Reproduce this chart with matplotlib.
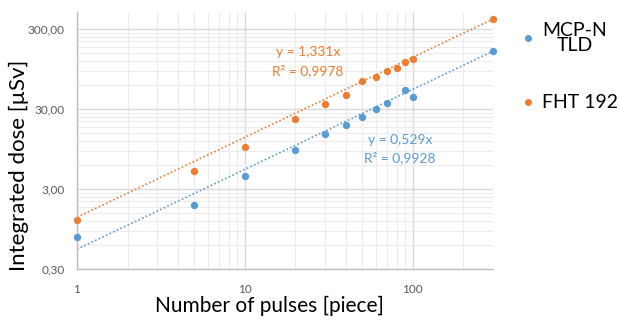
import numpy as np
import matplotlib
matplotlib.use("Agg")
import matplotlib.pyplot as plt
from matplotlib.ticker import FixedLocator, NullFormatter
from matplotlib.lines import Line2D

plt.rcParams['font.family'] = ['Lato', 'DejaVu Sans']

# ---- data ----
mcp_x = [1, 5, 10, 20, 30, 40, 50, 60, 70, 90, 100, 300]
mcp_y = [0.75, 1.89, 4.36, 9.2, 14.5, 18.9, 24.0, 29.6, 35.3, 52.4, 42.6, 161]
fht_x = [1, 5, 10, 20, 30, 40, 50, 60, 70, 80, 90, 100, 300]
fht_y = [1.24, 5.08, 10.1, 22.3, 34.6, 45.3, 67.2, 75.4, 89.6, 97.6, 117, 127, 403]
mcp_slope = 0.529
fht_slope = 1.331
mcp_r2 = "0,9928"
fht_r2 = "0,9978"
series_names = ["MCP-N\nTLD", "FHT 192"]
ytick_vals = [0.3, 3, 30, 300]
ytick_labels = ["0,30", "3,00", "30,00", "300,00"]
xtick_vals = [1, 10, 100]
xtick_labels = ["1", "10", "100"]

blue = "#5B9BD5"
orange = "#ED7D31"

W, H = 619, 320
fig = plt.figure(figsize=(W / 100, H / 100), dpi=100)
L, R, T, B = 77, 493, 12, 269
ax = fig.add_axes([L / W, 1 - B / H, (R - L) / W, (B - T) / H])
ax.set_xscale('log')
ax.set_yscale('log')
ax.set_xlim(1, 300)
ax.set_ylim(0.3, 490)

# grid
ax.yaxis.set_major_locator(FixedLocator(ytick_vals))
ax.set_yticklabels(ytick_labels)
yminor = [0.3 * k * 10 ** n for n in range(0, 4) for k in range(2, 10)]
ax.yaxis.set_minor_locator(FixedLocator(yminor))
ax.yaxis.set_minor_formatter(NullFormatter())
ax.xaxis.set_major_locator(FixedLocator(xtick_vals))
ax.set_xticklabels(xtick_labels)
xminor = [k * 10 ** n for n in range(0, 3) for k in range(2, 10)]
ax.xaxis.set_minor_locator(FixedLocator(xminor))
ax.xaxis.set_minor_formatter(NullFormatter())
ax.grid(True, which='major', color='#D9D9D9', lw=1.0, zorder=0)
ax.grid(True, which='minor', color='#ECECEC', lw=0.8, zorder=0)
ax.set_axisbelow(True)
ax.tick_params(which='both', length=0)
ax.tick_params(axis='y', pad=9, labelsize=8.5, labelcolor='#595959')
ax.tick_params(axis='x', pad=11, labelsize=8.5, labelcolor='#595959')
for s in ['top', 'right']:
    ax.spines[s].set_visible(False)
for s in ['left', 'bottom']:
    ax.spines[s].set_color('#BFBFBF')
    ax.spines[s].set_linewidth(1.0)

# trendlines
xt = np.array([1, 300])
ax.plot(xt, fht_slope * xt, color=orange, ls=(0, (1, 1.4)), lw=1.2, zorder=2)
ax.plot(xt, mcp_slope * xt, color=blue, ls=(0, (1, 1.4)), lw=1.2, zorder=2)

ax.scatter(mcp_x, mcp_y, s=28, color=blue, zorder=3, clip_on=False, linewidths=0)
ax.scatter(fht_x, fht_y, s=28, color=orange, zorder=3, clip_on=False, linewidths=0)

def ftext(x, y, s, **kw):
    fig.text(x / W, 1 - y / H, s, **kw)

ftext(308, 52, "y = " + str(fht_slope).replace('.', ',') + "x", color=orange, fontsize=10, ha='center', va='center')
ftext(308, 71, "R² = " + fht_r2, color=orange, fontsize=10, ha='center', va='center')
ftext(400, 140, "y = " + str(mcp_slope).replace('.', ',') + "x", color=blue, fontsize=10, ha='center', va='center')
ftext(400, 158, "R² = " + mcp_r2, color=blue, fontsize=10, ha='center', va='center')

# axis labels
ftext(269, 306, "Number of pulses [piece]", fontsize=15, ha='center', va='center', color='black')
ftext(19, 165, "Integrated dose [µSv]", fontsize=16, ha='center', va='center', rotation=90, color='black')

# legend
for (my, col) in [(38, blue), (102, orange)]:
    fig.add_artist(Line2D([528 / W], [1 - my / H], marker='o', markersize=5,
                          color=col, markeredgewidth=0, linestyle='none'))
ftext(575, 38, series_names[0], fontsize=14, ha='center', va='center', linespacing=0.85)
ftext(542, 102, series_names[1], fontsize=14, ha='left', va='center')

fig.savefig("out.png", dpi=100)
